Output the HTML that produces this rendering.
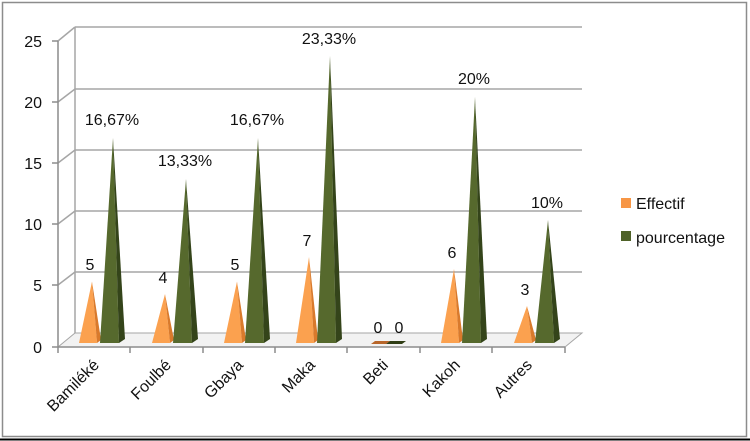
<!DOCTYPE html>
<html><head><meta charset="utf-8"><style>
html,body{margin:0;padding:0;background:#fff}
svg{display:block;font-family:"Liberation Sans",sans-serif}
</style></head><body>
<svg width="750" height="441" viewBox="0 0 750 441" xmlns="http://www.w3.org/2000/svg">
<rect x="0" y="0" width="750" height="441" fill="#fff"/>
<rect x="2.5" y="2.5" width="744" height="434" fill="none" stroke="#8c8c8c" stroke-width="1.5"/>
<line x1="0" y1="439.5" x2="750" y2="439.5" stroke="#000" stroke-width="2"/>
<g stroke="#a6a6a6" stroke-width="1.5" fill="none">
<line x1="75" y1="27" x2="582" y2="27"/>
<line x1="75" y1="89" x2="582" y2="89"/>
<line x1="75" y1="150" x2="582" y2="150"/>
<line x1="75" y1="211" x2="582" y2="211"/>
<line x1="75" y1="272" x2="582" y2="272"/>
<line x1="75" y1="27" x2="75" y2="333"/>
<line x1="58" y1="41" x2="75" y2="27"/>
<line x1="58" y1="102" x2="75" y2="89"/>
<line x1="58" y1="163" x2="75" y2="150"/>
<line x1="58" y1="224" x2="75" y2="211"/>
<line x1="58" y1="285" x2="75" y2="272"/>
</g>
<polygon points="58,347 75,333 582,333 565,347" fill="#f2f2f2" stroke="#a6a6a6" stroke-width="1"/>
<line x1="58" y1="347" x2="565" y2="347" stroke="#8c8c8c" stroke-width="1.5"/>
<line x1="58" y1="41" x2="58" y2="347" stroke="#8c8c8c" stroke-width="1.5"/>
<g stroke="#8c8c8c" stroke-width="1.5">
<line x1="52" y1="41" x2="58" y2="41"/><line x1="52" y1="102" x2="58" y2="102"/>
<line x1="52" y1="163" x2="58" y2="163"/><line x1="52" y1="224" x2="58" y2="224"/>
<line x1="52" y1="285" x2="58" y2="285"/><line x1="52" y1="347" x2="58" y2="347"/>
<line x1="58" y1="347" x2="58" y2="353"/><line x1="130" y1="347" x2="130" y2="353"/>
<line x1="203" y1="347" x2="203" y2="353"/><line x1="275" y1="347" x2="275" y2="353"/>
<line x1="347" y1="347" x2="347" y2="353"/><line x1="420" y1="347" x2="420" y2="353"/>
<line x1="492" y1="347" x2="492" y2="353"/><line x1="565" y1="347" x2="565" y2="353"/>
</g>
<g font-size="16" fill="#111" text-anchor="end">
<text x="42" y="47">25</text><text x="42" y="108">20</text><text x="42" y="169">15</text>
<text x="42" y="230">10</text><text x="42" y="291">5</text><text x="42" y="353">0</text>
</g>
<g>
<polygon points="79,343 92,281.5 97,343" fill="#fba14f"/><polygon points="97,343 92,281.5 101,340" fill="#d97a2c"/>
<polygon points="100,343 113,138 119,343" fill="#56692d"/><polygon points="119,343 113,138 125,339" fill="#34441a"/>
<polygon points="152,343 165,294 170,343" fill="#fba14f"/><polygon points="170,343 165,294 174,340" fill="#d97a2c"/>
<polygon points="173,343 186,179 192,343" fill="#56692d"/><polygon points="192,343 186,179 198,339" fill="#34441a"/>
<polygon points="224,343 237,281.5 242,343" fill="#fba14f"/><polygon points="242,343 237,281.5 246,340" fill="#d97a2c"/>
<polygon points="245,343 258,138 264,343" fill="#56692d"/><polygon points="264,343 258,138 270,339" fill="#34441a"/>
<polygon points="296,343 309,257 314,343" fill="#fba14f"/><polygon points="314,343 309,257 318,340" fill="#d97a2c"/>
<polygon points="317,343 330,56 336,343" fill="#56692d"/><polygon points="336,343 330,56 342,339" fill="#34441a"/>
<polygon points="371,344 386,344 390,341 375,341" fill="#b8662a"/>
<polygon points="386,344 402,344 406,341 390,341" fill="#2f3d14"/>
<polygon points="441,343 454,269 459,343" fill="#fba14f"/><polygon points="459,343 454,269 463,340" fill="#d97a2c"/>
<polygon points="462,343 475,97 481,343" fill="#56692d"/><polygon points="481,343 475,97 487,339" fill="#34441a"/>
<polygon points="514,343 527,306 532,343" fill="#fba14f"/><polygon points="532,343 527,306 536,340" fill="#d97a2c"/>
<polygon points="535,343 548,220 554,343" fill="#56692d"/><polygon points="554,343 548,220 560,339" fill="#34441a"/>
</g>
<g font-size="16" fill="#111" text-anchor="middle">
<text x="90" y="270">5</text><text x="112" y="125">16,67%</text>
<text x="163" y="283">4</text><text x="185" y="166">13,33%</text>
<text x="235" y="270">5</text><text x="257" y="125">16,67%</text>
<text x="307" y="246">7</text><text x="329" y="44">23,33%</text>
<text x="378" y="333">0</text><text x="399" y="333">0</text>
<text x="452" y="258">6</text><text x="474" y="84">20%</text>
<text x="525" y="295">3</text><text x="547" y="208">10%</text>
</g>
<g font-size="16" fill="#111" text-anchor="end">
<text transform="translate(100,366) rotate(-45)">Bamiléké</text>
<text transform="translate(172,366) rotate(-45)">Foulbé</text>
<text transform="translate(244,366) rotate(-45)">Gbaya</text>
<text transform="translate(316,366) rotate(-45)">Maka</text>
<text transform="translate(389,366) rotate(-45)">Beti</text>
<text transform="translate(461,366) rotate(-45)">Kakoh</text>
<text transform="translate(533,366) rotate(-45)">Autres</text>
</g>
<rect x="621" y="198" width="10" height="10" fill="#f79646"/>
<text x="636" y="209" font-size="16" fill="#111">Effectif</text>
<rect x="621" y="231" width="10" height="10" fill="#4f6228"/>
<text x="636" y="243" font-size="16" fill="#111">pourcentage</text>
</svg>
</body></html>
